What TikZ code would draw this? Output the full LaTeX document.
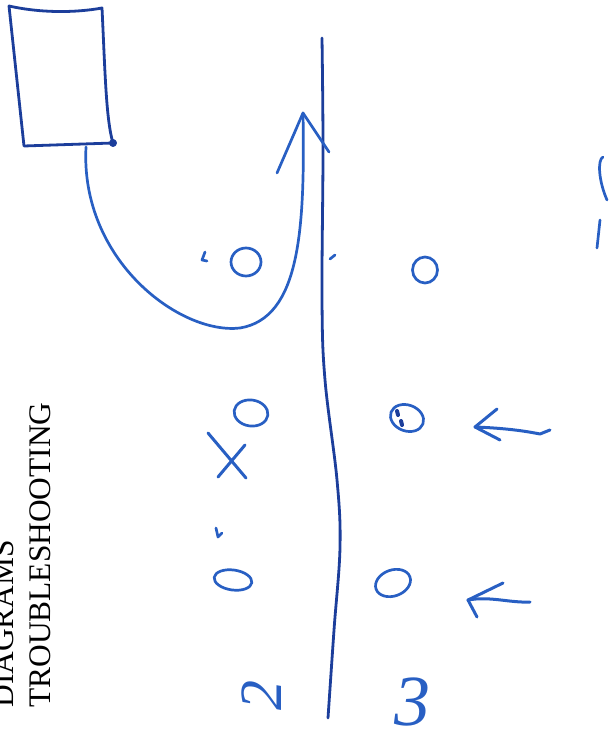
\documentclass[tikz,border=0pt]{standalone}
\usepackage{fontspec}
\setmainfont{Liberation Serif}
\usetikzlibrary{positioning,arrows.meta,shapes.geometric,calc}
\definecolor{penblue}{RGB}{40,95,195}
\definecolor{inkblue}{RGB}{28,62,155}
\tikzset{
  pen/.style={draw=penblue, line width=1.35pt, line cap=round, line join=round},
  ink/.style={draw=inkblue, line width=1.4pt, line cap=round, line join=round},
  player/.style={ellipse, pen, minimum width=17pt, minimum height=13pt, inner sep=0pt},
  scrawl/.style={text=penblue, inner sep=0pt, font=\fontsize{30}{30}\selectfont\itshape},
  caption/.style={rotate=90, anchor=base west, inner sep=0pt,
                  font=\fontsize{15.7}{17}\selectfont},
}

\begin{document}
\begin{tikzpicture}[x=0.5pt, y=-0.5pt]
  \useasboundingbox (0,0) rectangle (611,731);

  % heading, turned with the page
  \node[caption] (hd1) at (13,708) {DIAGRAMS};
  \node[caption] (hd2) at (50,708) {TROUBLESHOOTING};

  % box in the corner
  \coordinate (tl) at (9,6);   \coordinate (tr) at (102,8);
  \coordinate (br) at (113,143); \coordinate (bl) at (24,146);
  \draw[ink] (tl) .. controls (40,13) and (75,13) .. (tr)
             .. controls (105,70) and (106,120) .. (br) -- (bl) -- cycle;
  \draw[ink] (br) circle (2.5);

  % centre line
  \draw[ink] plot[smooth, tension=0.6] coordinates
    {(322,38) (323,150) (322,300) (325,380) (337,480) (340,547) (334,630) (328,718)};

  % run from the box
  \coordinate (start) at (86,147);
  \coordinate (tip)   at (303,113);
  \coordinate (lb)    at (277,173);
  \coordinate (rb)    at (329,152);
  \draw[pen] (start) .. controls (80,260) and (180,335) .. (240,328)
             .. controls (300,318) and (305,230) .. (tip);
  \draw[pen] (rb) -- (tip) -- (lb) -- (297,127);

  % players
  \node[player, minimum width=15pt, minimum height=14pt] (o1) at (246,262) {};
  \node[player, minimum width=12.5pt, minimum height=13pt] (o2) at (425,270) {};
  \node[player, rotate=-8] (o3) at (251,413) {};
  \node[player, rotate=-20] (o4) at (407,418) {};
  \node[player, minimum width=19pt, minimum height=10pt, rotate=-8] (o5) at (233,580) {};
  \node[player, minimum width=18pt, minimum height=13pt, rotate=20] (o6) at (393,583) {};
  \draw[ink, line width=2pt] (397,411) -- (398,415);
  \draw[ink, line width=2pt] (401,421) -- (402,425);

  % small marks
  \draw[pen] (205,252) -- (202,260) -- (207,261);
  \draw[pen] (330,259) -- (335,255);
  \draw[pen] (216,528) -- (218,537) -- (222,533);

  % the X
  \coordinate (x1) at (208,433); \coordinate (x2) at (246,478);
  \coordinate (x3) at (245,445); \coordinate (x4) at (218,477);
  \draw[pen, line width=1.5pt] (x1) -- (x2) (x3) -- (x4);

  % arrows on the right
  \coordinate (a1tail) at (550,430); \coordinate (a1tip) at (475,427);
  \draw[pen, line width=1.5pt] (a1tail) -- (540,434) .. controls (520,430) and (500,428) .. (a1tip);
  \draw[pen, line width=1.5pt] (497,409) -- (a1tip) -- (500,440);
  \coordinate (a2tail) at (530,602); \coordinate (a2tip) at (468,600);
  \draw[pen, line width=1.5pt] (a2tail) .. controls (510,603) and (490,596) .. (a2tip);
  \draw[pen, line width=1.5pt] (503,583) -- (a2tip) -- (477,617);

  % stroke at the edge
  \draw[pen] (603,157) .. controls (597,160) and (599,182) .. (607,200);
  \draw[pen] (600,220) -- (597,248);

  % numbers
  \node[scrawl, rotate=90] (n2) at (262,695) {2};
  \node[scrawl, font=\fontsize{36}{36}\selectfont\itshape] (n3) at (412,702) {3};
\end{tikzpicture}
\end{document}
